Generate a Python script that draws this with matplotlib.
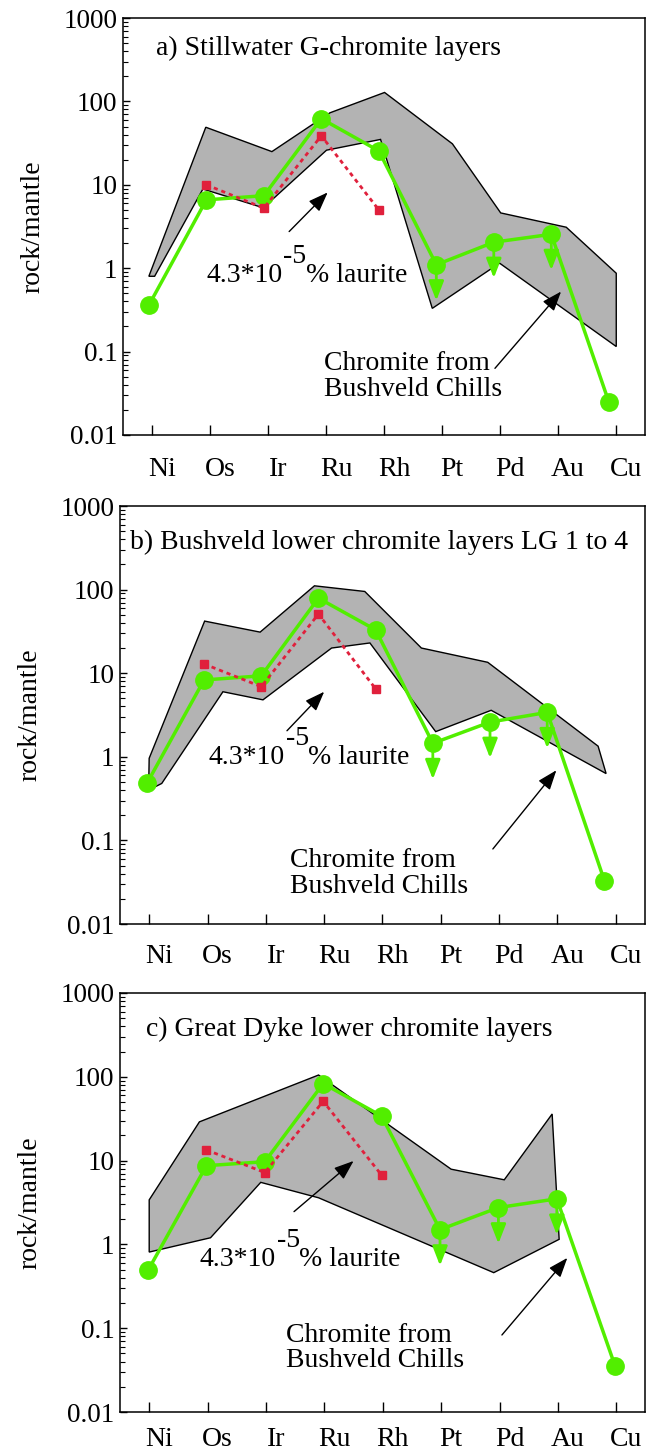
import numpy as np
import matplotlib
matplotlib.use("Agg")
import matplotlib.pyplot as plt
from matplotlib.ticker import LogLocator, NullFormatter
from matplotlib.transforms import ScaledTranslation

plt.rcParams['font.family'] = ['Liberation Serif', 'DejaVu Serif']

elements = ["Ni", "Os", "Ir", "Ru", "Rh", "Pt", "Pd", "Au", "Cu"]
laurite_elements = ["Os", "Ir", "Ru", "Rh"]
limit_elements = ["Pt", "Pd", "Au"]   # upper limits only

titles = ["a) Stillwater G-chromite layers",
          "b) Bushveld lower chromite layers LG 1 to 4",
          "c) Great Dyke lower chromite layers"]

# chromite layers, rock/mantle
layer_a = [0.36, 6.6, 7.4, 62, 25.5, 1.1, 2.05, 2.55, 0.025]
layer_b = [0.48, 8.3, 9.3, 79, 33, 1.45, 2.6, 3.4, 0.033]
layer_c = [0.49, 8.7, 9.7, 83, 34, 1.5, 2.75, 3.5, 0.035]

# 4.3*10^-5 % laurite (Os, Ir, Ru, Rh)
laurite_a = [10, 5.25, 38.7, 5.0]
laurite_b = [12.9, 6.9, 51, 6.5]
laurite_c = [13.4, 7.2, 51, 6.7]

# chromite from Bushveld chills, envelope (x = element index)
chill_a_upper_x = [0.0, 0.99, 2.14, 3.15, 4.1, 5.28, 6.12, 7.26, 8.13]
chill_a_upper_y = [0.8, 49, 25, 73, 128, 31, 4.6, 3.1, 0.87]
chill_a_lower_x = [0.1, 0.94, 1.99, 3.09, 4.03, 4.93, 6.1, 8.13]
chill_a_lower_y = [0.8, 8.9, 5.3, 26, 35, 0.33, 1.15, 0.115]

chill_b_upper_x = [0.04, 1.01, 1.98, 2.93, 3.81, 4.8, 5.96, 7.89, 8.03]
chill_b_upper_y = [0.96, 42, 31, 111, 95, 20, 13.5, 1.34, 0.63]
chill_b_lower_x = [0.03, 0.26, 1.33, 2.03, 3.23, 3.9, 5.05, 6.02, 8.03]
chill_b_lower_y = [0.4, 0.48, 6.0, 4.8, 20, 23, 2.0, 3.6, 0.63]

chill_c_upper_x = [0.02, 0.88, 2.92, 5.19, 6.1, 6.92, 7.04]
chill_c_upper_y = [3.4, 29, 105, 7.9, 5.9, 36, 1.15]
chill_c_lower_x = [0.02, 1.07, 1.93, 2.92, 5.92, 7.04]
chill_c_lower_y = [0.81, 1.2, 5.5, 3.6, 0.46, 1.15]

layers = [layer_a, layer_b, layer_c]
lauri = [laurite_a, laurite_b, laurite_c]
chills = [(chill_a_upper_x, chill_a_upper_y, chill_a_lower_x, chill_a_lower_y),
          (chill_b_upper_x, chill_b_upper_y, chill_b_lower_x, chill_b_lower_y),
          (chill_c_upper_x, chill_c_upper_y, chill_c_lower_x, chill_c_lower_y)]

# panel placement in pixels (left, top, right, bottom) and per panel layout
W, H = 649, 1454
boxes = [(123, 18, 645, 435), (120, 506, 645, 924), (120, 993, 645, 1412)]
xlims = [(-0.45, 8.63), (-0.47, 8.71), (-0.48, 8.51)]
tick_shift = [(0.057, 1.008), (0.044, 1.019), (0.02, 1.0)]
xlabel_pad = [16, 14.5, 11]
title_pos = [(0.13, 427), (-0.29, 363), (-0.04, 363)]
laurite_arrow = [((2.44, 2.75), (3.11, 8.1)), ((2.45, 2.05), (3.1, 6.0)), ((2.5, 2.46), (3.52, 9.9))]
laurite_text = [(1.0, 0.69), (1.08, 0.81), (0.88, 0.56)]
chill_text = [(3.04, 0.05), (2.5, 0.04), (2.37, 0.058)]
chill_arrow = [((6.02, 0.063), (7.17, 0.525)), ((6.05, 0.079), (7.16, 0.69)), ((6.06, 0.083), (7.18, 0.69))]

green = '#52ee00'
red = '#e0203c'
limit_drop = 10 ** 0.43
fs = 20

fig = plt.figure(figsize=(W / 100, H / 100), dpi=100)

for p in range(3):
    l, t, r, b = boxes[p]
    ax = fig.add_axes([l / W, 1 - b / H, (r - l) / W, (b - t) / H])
    ax.set_yscale('log')
    ax.set_ylim(0.01, 1000)
    ax.set_xlim(*xlims[p])

    # envelope of the Bushveld chills
    ux, uy, lx, ly = chills[p]
    ax.fill(list(ux) + list(lx[::-1]), list(uy) + list(ly[::-1]),
            facecolor='#b3b3b3', edgecolor='black', lw=1.0, zorder=1)

    x = np.arange(len(elements))
    ax.plot(x, layers[p], color=green, lw=2.5, marker='o', ms=12.5,
            mec=green, mfc=green, zorder=3)

    xl = [elements.index(e) for e in laurite_elements]
    ax.plot(xl, lauri[p], color=red, lw=2.0, ls=(0, (1.5, 1.4)),
            marker='s', ms=6, mec=red, mfc=red, zorder=4)

    for e in limit_elements:
        i = elements.index(e)
        v = layers[p][i]
        ax.annotate('', xy=(i, v / limit_drop), xytext=(i, v),
                    arrowprops=dict(arrowstyle='-|>,head_length=0.9,head_width=0.35',
                                    color=green, lw=2, mutation_scale=13,
                                    shrinkA=0, shrinkB=0), zorder=3)

    ax.text(title_pos[p][0], title_pos[p][1], titles[p], fontsize=fs, va='center', ha='left')

    (tx, ty), (hx, hy) = laurite_arrow[p]
    ax.annotate('', xy=(hx, hy), xytext=(tx, ty),
                arrowprops=dict(arrowstyle='-|>,head_length=0.8,head_width=0.3',
                                color='black', lw=1, mutation_scale=15,
                                shrinkA=0, shrinkB=0), zorder=5)
    t1 = ax.text(laurite_text[p][0], laurite_text[p][1], "4.3*10", fontsize=fs, va='baseline')
    t2 = ax.annotate("-5", xy=(1, 0), xycoords=t1, xytext=(1, 19),
                     textcoords='offset pixels', fontsize=fs, va='bottom')
    ax.annotate("% laurite", xy=(1, 0), xycoords=(t2, t1), xytext=(-1, 0),
                textcoords='offset pixels', fontsize=fs, va='bottom')

    ax.text(chill_text[p][0], chill_text[p][1], "Chromite from\nBushveld Chills",
            fontsize=fs, va='center', ha='left', linespacing=1.05)
    (tx, ty), (hx, hy) = chill_arrow[p]
    ax.annotate('', xy=(hx, hy), xytext=(tx, ty),
                arrowprops=dict(arrowstyle='-|>,head_length=0.8,head_width=0.3',
                                color='black', lw=1, mutation_scale=15,
                                shrinkA=0, shrinkB=0), zorder=5)

    # axes, ticks
    off, step = tick_shift[p]
    ax.set_xticks(off + step * x, labels=elements)
    ax.tick_params(axis='x', direction='in', length=7.5, width=1,
                   pad=xlabel_pad[p], labelsize=fs)
    for lbl in ax.get_xticklabels():
        lbl.set_transform(lbl.get_transform() + ScaledTranslation(0.1, 0, fig.dpi_scale_trans))

    ax.set_yticks([0.01, 0.1, 1, 10, 100, 1000],
                  labels=["0.01", "0.1", "1", "10", "100", "1000"])
    ax.yaxis.set_minor_locator(LogLocator(base=10, subs=np.arange(2, 10), numticks=20))
    ax.yaxis.set_minor_formatter(NullFormatter())
    ax.tick_params(axis='y', which='major', direction='in', length=5, width=1, pad=4, labelsize=fs - 0.5)
    ax.tick_params(axis='y', which='minor', direction='in', length=3.5, width=0.8)

    for s in ax.spines.values():
        s.set_linewidth(1.1)

    ax.set_ylabel("rock/mantle", fontsize=fs)
    ax.yaxis.set_label_coords(-0.148, 0.5)

fig.savefig("out.png", dpi=100)
